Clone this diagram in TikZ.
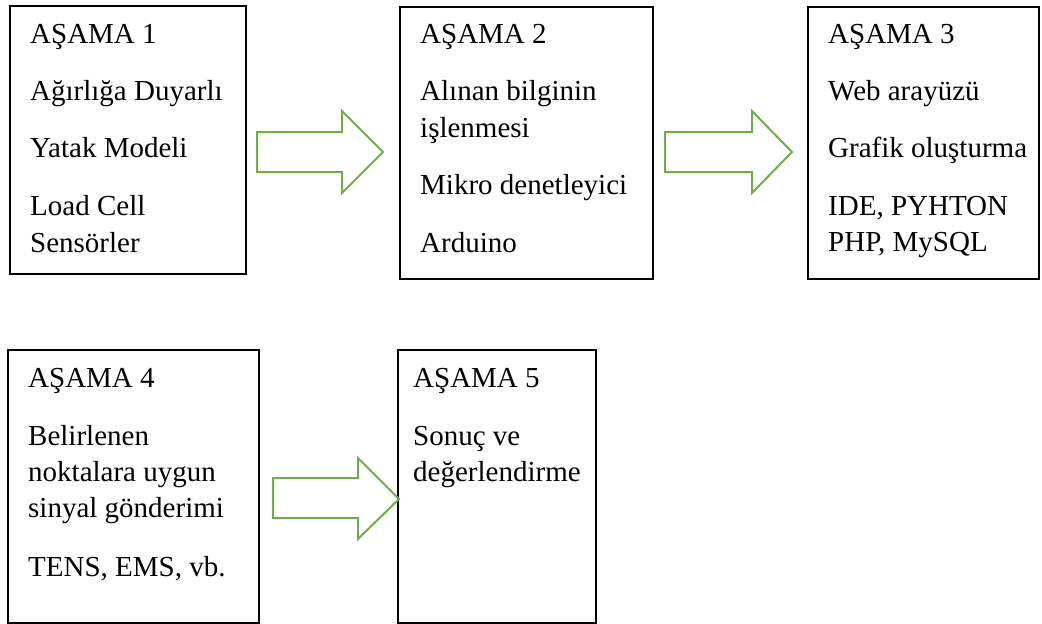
\documentclass[tikz,border=0pt]{standalone}
\usepackage{fontspec}
\newfontfamily\stagefont{Liberation Serif}
\definecolor{arrgreen}{HTML}{70AD47}
\tikzset{
  stagebox/.style={draw=black, line width=2pt, inner sep=0pt},
  ln/.style={anchor=base west, inner sep=0pt, font={\fontsize{29}{35}\stagefont}},
  blockarrow/.style={draw=arrgreen, line width=2pt, line join=miter},
}
\begin{document}
\begin{tikzpicture}[x=1pt,y=-1pt]
\useasboundingbox (0,0) rectangle (1042,624);
% boxes
\node[stagebox, minimum width=236pt, minimum height=268pt, anchor=north west] (b1) at (9,5) {};
\node[stagebox, minimum width=253pt, minimum height=272pt, anchor=north west] (b2) at (399,6) {};
\node[stagebox, minimum width=231pt, minimum height=272pt, anchor=north west] (b3) at (807,6) {};
\node[stagebox, minimum width=251pt, minimum height=273pt, anchor=north west] (b4) at (7,349) {};
\node[stagebox, minimum width=198pt, minimum height=273pt, anchor=north west] (b5) at (397,349) {};
% box 1 text
\node[ln] (t11) at (30,43) {AŞAMA 1};
\node[ln] (t12) at (30,100) {Ağırlığa Duyarlı};
\node[ln] (t13) at (30,157) {Yatak Modeli};
\node[ln] (t14) at (30,215) {Load Cell};
\node[ln] (t15) at (30,252) {Sensörler};
% box 2 text
\node[ln] (t21) at (420,43) {AŞAMA 2};
\node[ln] (t22) at (420,100) {Alınan bilginin};
\node[ln] (t23) at (420,137) {işlenmesi};
\node[ln] (t24) at (420,194) {Mikro denetleyici};
\node[ln] (t25) at (420,252) {Arduino};
% box 3 text
\node[ln] (t31) at (828,43) {AŞAMA 3};
\node[ln] (t32) at (828,100) {Web arayüzü};
\node[ln] (t33) at (828,157) {Grafik oluşturma};
\node[ln] (t34) at (828,215) {IDE, PYHTON};
\node[ln] (t35) at (828,251) {PHP, MySQL};
% box 4 text
\node[ln] (t41) at (28,387) {AŞAMA 4};
\node[ln] (t42) at (28,445) {Belirlenen};
\node[ln] (t43) at (28,481) {noktalara uygun};
\node[ln] (t44) at (28,517) {sinyal gönderimi};
\node[ln] (t45) at (28,576) {TENS, EMS, vb.};
% box 5 text
\node[ln] (t51) at (413,387) {AŞAMA 5};
\node[ln] (t52) at (413,445) {Sonuç ve};
\node[ln] (t53) at (413,481) {değerlendirme};
% block arrows
\draw[blockarrow] (257,132) -- (342,132) -- (342,111) -- (383,152) -- (342,193) -- (342,172) -- (257,172) -- cycle;
\draw[blockarrow] (665,132) -- (752,132) -- (752,111) -- (792,152) -- (752,193) -- (752,172) -- (665,172) -- cycle;
\draw[blockarrow] (273,478) -- (358,478) -- (358,458) -- (399,499) -- (358,539) -- (358,518) -- (273,518) -- cycle;
\end{tikzpicture}
\end{document}
